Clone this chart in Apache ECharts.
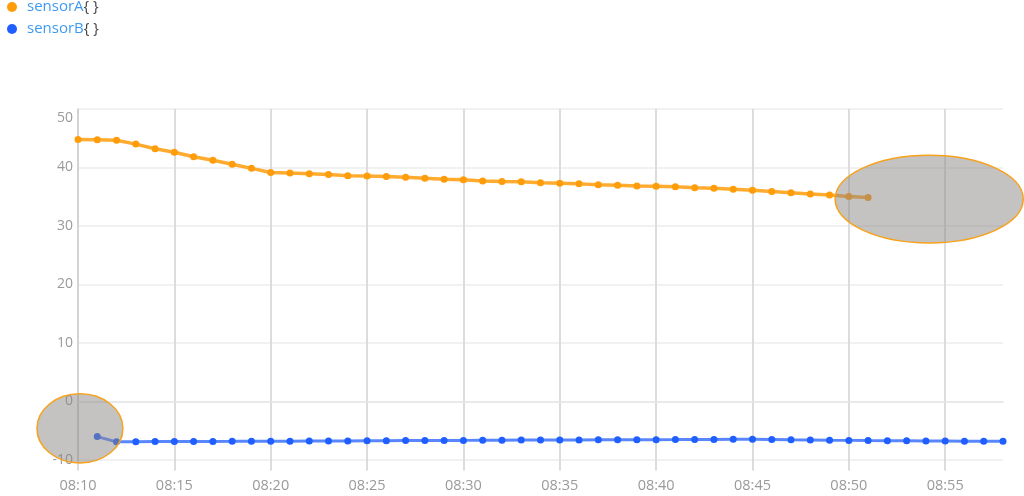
<!DOCTYPE html>
<html>
<head>
<meta charset="utf-8">
<script src="https://cdn.jsdelivr.net/npm/echarts@6/dist/echarts.min.js"></script>
<style>html,body{margin:0;padding:0;background:#fff}#c{width:1024px;height:496px}</style>
</head>
<body>
<div id="c"></div>
<script>
// ---- data ----
const seriesNames = ['sensorA', 'sensorB'];
const startA = '08:10';
const sensorA = [44.8, 44.75, 44.65, 44.0, 43.2, 42.6, 41.85, 41.25, 40.55, 39.85,
  39.15, 39.05, 38.95, 38.8, 38.6, 38.55, 38.45, 38.35, 38.15, 38.0,
  37.9, 37.7, 37.6, 37.55, 37.4, 37.3, 37.2, 37.05, 36.95, 36.85,
  36.8, 36.7, 36.55, 36.45, 36.3, 36.1, 35.9, 35.7, 35.45, 35.3,
  35.05, 34.85];
const startB = '08:11';
const sensorB = [-6.0, -6.9, -6.88, -6.86, -6.85, -6.84, -6.83, -6.82, -6.8, -6.79,
  -6.78, -6.76, -6.75, -6.74, -6.72, -6.7, -6.69, -6.68, -6.66, -6.65,
  -6.63, -6.62, -6.6, -6.6, -6.58, -6.57, -6.56, -6.55, -6.54, -6.53,
  -6.52, -6.5, -6.48, -6.46, -6.46, -6.5, -6.55, -6.58, -6.62, -6.65,
  -6.68, -6.7, -6.72, -6.74, -6.76, -6.78, -6.8, -6.82];
const xStart = '08:10';
const xEnd = '08:58';
const yTicksMin = -10, yTicksMax = 50, yTickStep = 10;
const yDataMin = -11.8;
// annotation ellipses: [centerTime, centerValue, radiusMinutes, radiusUnits]
const annotations = [
  ['08:10.1', -4.6, 2.23, 5.9],
  ['08:54.17', 34.6, 4.88, 7.5]
];

// ---- helpers ----
function toMin(s) { const p = s.split(':'); return (+p[0]) * 60 + parseFloat(p[1]); }
function fmt(m) { const h = Math.floor(m / 60), mm = Math.round(m % 60); return (h < 10 ? '0' : '') + h + ':' + (mm < 10 ? '0' : '') + mm; }
function pts(start, vals) { const s = toMin(start); return vals.map((v, i) => [s + i, v]); }

const FONT = '"Open Sans", "Noto Sans", sans-serif';
const chart = echarts.init(document.getElementById('c'));
const gridPos = { left: 78, right: 21, top: 109 };

chart.setOption({
  animation: false,
  textStyle: { fontFamily: FONT },
  legend: {
    orient: 'vertical', left: 7, top: -3, padding: 0, itemWidth: 10, itemHeight: 10, itemGap: 2,
    icon: 'circle',
    data: seriesNames,
    formatter: n => '{n|' + n + '}{ }',
    textStyle: { fontSize: 15, color: '#444', fontFamily: FONT, lineHeight: 20,
      rich: { n: { fontSize: 15, color: '#3f9af2', fontFamily: FONT, lineHeight: 20, padding: [0, 0, 0, 5] } } }
  },
  grid: [
    Object.assign({ bottom: 25.5 }, gridPos),
    Object.assign({ bottom: 36 }, gridPos)
  ],
  xAxis: [{
    type: 'value', gridIndex: 0, min: toMin(xStart), max: toMin(xEnd), interval: 5,
    axisLine: { show: true, lineStyle: { color: '#e6e6e6', width: 1.5 } },
    axisTick: { show: false },
    axisLabel: { color: '#9a9a9a', fontSize: 14.5, margin: 8, showMaxLabel: false,
      formatter: v => (v % 5 === 0 ? fmt(v) : '') },
    splitLine: { show: true, showMaxLine: false, lineStyle: { color: '#dcdcdc', width: 2 } }
  }, {
    type: 'value', gridIndex: 1, min: toMin(xStart), max: toMin(xEnd), show: false
  }],
  yAxis: [{
    type: 'value', gridIndex: 0, min: yDataMin, max: yTicksMax, show: false, splitLine: { show: false }
  }, {
    type: 'value', gridIndex: 1, min: yTicksMin, max: yTicksMax, interval: yTickStep,
    axisLine: { show: true, lineStyle: { color: '#d0d0d0', width: 1.5 } },
    axisTick: { show: false },
    axisLabel: { color: '#9a9a9a', fontSize: 14, margin: 5,
      formatter: v => (v === yTicksMax ? '{t|' + v + '}' : '' + v),
      rich: { t: { color: '#9a9a9a', fontSize: 14, padding: [18, 0, 0, 0] } } },
    splitLine: { show: true, lineStyle: { color: '#ececec', width: 1.5 } }
  }],
  series: [{
    name: 'sensorA', type: 'line', xAxisIndex: 0, yAxisIndex: 0,
    data: pts(startA, sensorA), symbol: 'circle', symbolSize: 7, showSymbol: true,
    itemStyle: { color: '#ff9c0a' },
    lineStyle: { color: '#ff9c0a', width: 3.5, opacity: 0.85 }
  }, {
    name: 'sensorB', type: 'line', xAxisIndex: 0, yAxisIndex: 0,
    data: pts(startB, sensorB), symbol: 'circle', symbolSize: 7, showSymbol: true,
    itemStyle: { color: '#1f5eff' },
    lineStyle: { color: '#1f5eff', width: 3, opacity: 0.75 }
  }]
});

const gr = annotations.map(a => {
  const cx = toMin(a[0]);
  const c = chart.convertToPixel({ gridIndex: 0 }, [cx, a[1]]);
  const e = chart.convertToPixel({ gridIndex: 0 }, [cx + a[2], a[1] - a[3]]);
  return {
    type: 'ellipse', z: 100,
    shape: { cx: c[0], cy: c[1], rx: Math.abs(e[0] - c[0]), ry: Math.abs(e[1] - c[1]) },
    style: { fill: 'rgba(140,134,134,0.5)', stroke: '#f7a21b', lineWidth: 1.5 }
  };
});
chart.setOption({ graphic: gr });
</script>
</body>
</html>
